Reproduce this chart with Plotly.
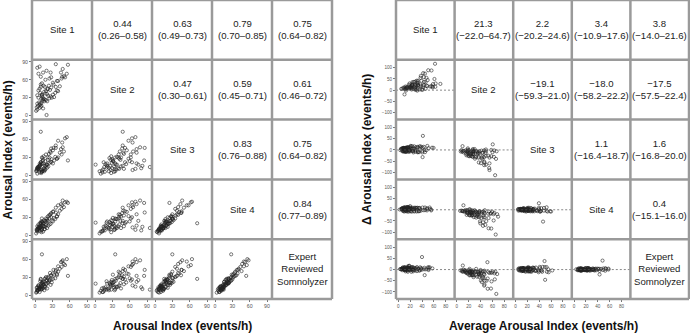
import plotly.graph_objects as go

# ---- data: arousal index (events/h) per subject for each scorer ----
site1 = [3, 11, 5, 12, 7, 14, 6, 16, 9, 4, 17, 8, 12, 19, 10, 6, 21, 13, 9, 18,
         14, 23, 11, 16, 25, 13, 17, 27, 15, 21, 10, 29, 19, 31, 22, 33, 24, 35, 26, 38,
         28, 40, 31, 43, 4, 2, 8, 4, 8, 15, 11, 12, 22, 18, 32, 46, 36, 50, 40, 45,
         52, 48, 57, 55, 38, 27, 3, 6, 12, 4, 8, 14, 20, 10, 36, 47, 25, 10, 12, 20,
         28, 6]
site2 = [14, 28, 16, 33, 22, 12, 30, 24, 38, 20, 27, 18, 35, 26, 15, 42, 24, 31, 20, 37,
         27, 33, 21, 40, 29, 25, 48, 32, 28, 36, 52, 30, 41, 35, 45, 31, 50, 38, 43, 58,
         47, 41, 55, 49, 10, 8, 13, 34, 45, 50, 17, 54, 44, 60, 52, 62, 48, 66, 58, 72,
         64, 78, 85, 70, 42, 72, 121, 95, 100, 80, 82, 72, 75, 65, 86, 65, 62, 48, 35, 1,
         64, 70]
site3 = [10, 4, 14, 6, 15, 8, 12, 7, 18, 13, 9, 19, 7, 16, 22, 11, 13, 24, 17, 10,
         26, 15, 20, 12, 21, 29, 16, 23, 32, 18, 22, 27, 35, 20, 30, 25, 36, 31, 40, 28,
         45, 30, 42, 38, 3, 7, 5, 10, 15, 11, 6, 19, 26, 24, 46, 35, 50, 40, 58, 44,
         62, 47, 25, 64, 28, 38, 8, 14, 10, 12, 16, 20, 18, 9, 46, 55, 30, 73, 30, 18,
         22, 11]
site4 = [8, 5, 11, 9, 13, 6, 14, 10, 12, 15, 10, 16, 11, 17, 14, 18, 12, 19, 21, 14,
         20, 16, 23, 15, 18, 22, 24, 19, 25, 27, 20, 24, 28, 23, 31, 29, 33, 27, 34, 32,
         37, 35, 39, 41, 6, 3, 7, 9, 12, 15, 8, 22, 24, 23, 40, 44, 46, 47, 50, 52,
         55, 58, 54, 56, 31, 35, 10, 12, 16, 8, 14, 16, 24, 13, 38, 50, 28, 20, 28, 21,
         30, 9]
site5 = [5, 9, 7, 13, 10, 11, 16, 8, 14, 9, 15, 13, 10, 18, 12, 16, 11, 20, 23, 13,
         17, 22, 19, 14, 25, 20, 27, 17, 22, 24, 26, 21, 30, 27, 29, 34, 31, 28, 37, 35,
         33, 39, 36, 44, 7, 4, 5, 8, 11, 18, 10, 21, 20, 28, 42, 47, 40, 52, 48, 55,
         50, 58, 32, 60, 33, 32, 12, 9, 15, 13, 10, 22, 25, 16, 42, 56, 24, 27, 68, 19,
         26, 14]

site_labels = ["Site 1", "Site 2", "Site 3", "Site 4", "Expert<br>Reviewed<br>Somnolyzer"]

# agreement (ICC) text, upper triangle
icc_text = {
    (0, 1): "0.44<br>(0.26–0.58)", (0, 2): "0.63<br>(0.49–0.73)",
    (0, 3): "0.79<br>(0.70–0.85)", (0, 4): "0.75<br>(0.64–0.82)",
    (1, 2): "0.47<br>(0.30–0.61)", (1, 3): "0.59<br>(0.45–0.71)",
    (1, 4): "0.61<br>(0.46–0.72)",
    (2, 3): "0.83<br>(0.76–0.88)", (2, 4): "0.75<br>(0.64–0.82)",
    (3, 4): "0.84<br>(0.77–0.89)",
}
# Bland-Altman bias (limits of agreement), upper triangle
ba_text = {
    (0, 1): "21.3<br>(−22.0–64.7)", (0, 2): "2.2<br>(−20.2–24.6)",
    (0, 3): "3.4<br>(−10.9–17.6)", (0, 4): "3.8<br>(−14.0–21.6)",
    (1, 2): "−19.1<br>(−59.3–21.0)", (1, 3): "−18.0<br>(−58.2–22.2)",
    (1, 4): "−17.5<br>(−57.5–22.4)",
    (2, 3): "1.1<br>(−16.4–18.7)", (2, 4): "1.6<br>(−16.8–20.0)",
    (3, 4): "0.4<br>(−15.1–16.0)",
}

left_ticks = [0, 30, 60, 90]
right_xticks = [0, 20, 40, 60, 80]
right_yticks = [-100, -50, 0, 50, 100]

left_xtitle = "Arousal Index (events/h)"
left_ytitle = "Arousal Index (events/h)"
right_xtitle = "Average Arousal Index (events/h)"
right_ytitle = "Δ Arousal Index (events/h)"

# ---- layout geometry (pixels) ----
W, H = 690, 333
CH = 59.8
FONT = "Liberation Sans, Arial, sans-serif"
GRID = "#9a9a9a"

panels = [
    dict(name="left", x0=32, cw=60,
         xr=[-3 / (52 / 90), (60 - 3) / (52 / 90)],
         yr=[-4 / 0.6, 90 + 2 / 0.6],
         xt=left_ticks, yt=left_ticks, text=icc_text, tfs=5.2),
    dict(name="right", x0=396, cw=58.6,
         xr=[-2.3 / 0.5925, (58.6 - 2.3) / 0.5925],
         yr=[-(CH - 30.35) / 0.2235, 30.35 / 0.2235],
         xt=right_xticks, yt=right_yticks, text=ba_text, tfs=4.6),
]

sites = [site1, site2, site3, site4, site5]

fig = go.Figure()
shapes = []
annotations = []
n = 0
cell_font = dict(family=FONT, size=9.6, color="#222")
for P in panels:
    x0, cw = P["x0"], P["cw"]
    for r in range(5):
        for c in range(5):
            xl = x0 + c * cw
            xr_ = xl + cw
            yt = r * CH
            yb = yt + CH
            cx = (xl + xr_) / 2 / W
            cy = 1 - (yt + yb) / 2 / H
            if r <= c:
                txt = site_labels[r] if r == c else P["text"][(r, c)]
                annotations.append(dict(x=cx, y=cy, xref="paper", yref="paper",
                                        text=txt, showarrow=False, font=cell_font,
                                        xanchor="center", yanchor="middle"))
            else:
                n += 1
                sfx = "" if n == 1 else str(n)
                if P["name"] == "left":
                    xs, ys = sites[c], sites[r]
                else:
                    xs = [(a + b) / 2 for a, b in zip(sites[r], sites[c])]
                    ys = [a - b for a, b in zip(sites[r], sites[c])]
                fig.add_trace(go.Scatter(
                    x=xs, y=ys, xaxis="x" + sfx, yaxis="y" + sfx, mode="markers",
                    marker=dict(symbol="circle-open", size=3.2,
                                color="#222", line=dict(width=0.6, color="#222")),
                    showlegend=False, hoverinfo="skip"))
                fig.layout["xaxis" + sfx] = dict(
                    domain=[xl / W, xr_ / W], anchor="y" + sfx, range=P["xr"],
                    tickvals=P["xt"], showticklabels=(r == 4),
                    ticks="outside" if r == 4 else "", ticklen=2, tickwidth=0.6,
                    tickcolor="#777", tickfont=dict(family=FONT, size=P["tfs"], color="#555"),
                    showgrid=False, zeroline=False, showline=False, fixedrange=True)
                fig.layout["yaxis" + sfx] = dict(
                    domain=[1 - yb / H, 1 - yt / H], anchor="x" + sfx, range=P["yr"],
                    tickvals=P["yt"], showticklabels=(c == 0),
                    ticks="outside" if c == 0 else "", ticklen=2, tickwidth=0.6,
                    tickcolor="#777", tickfont=dict(family=FONT, size=P["tfs"], color="#555"),
                    showgrid=False, zeroline=False, showline=False, fixedrange=True)
                if P["name"] == "right":
                    shapes.append(dict(type="line", xref="x" + sfx + " domain", x0=0, x1=1,
                                       yref="y" + sfx, y0=0, y1=0,
                                       line=dict(color="#555", width=0.7, dash="2px,2px")))
    # grid lines
    for k in range(6):
        xx = (x0 + k * cw) / W
        shapes.append(dict(type="line", xref="paper", yref="paper", x0=xx, x1=xx,
                           y0=1 - 5 * CH / H, y1=1, line=dict(color=GRID, width=2.5)))
        yy = 1 - (k * CH) / H
        shapes.append(dict(type="line", xref="paper", yref="paper", x0=x0 / W,
                           x1=(x0 + 5 * cw) / W, y0=yy, y1=yy, line=dict(color=GRID, width=2.5)))

# axis titles
tf = dict(family=FONT, size=12, color="#111", weight="bold")
annotations += [
    dict(x=182 / W, y=1 - 325.5 / H, xref="paper", yref="paper", text=left_xtitle,
         showarrow=False, font=tf, xanchor="center", yanchor="middle"),
    dict(x=7.5 / W, y=1 - 150 / H, xref="paper", yref="paper", text=left_ytitle,
         showarrow=False, font=tf, textangle=-90, xanchor="center", yanchor="middle"),
    dict(x=543 / W, y=1 - 325.5 / H, xref="paper", yref="paper", text=right_xtitle,
         showarrow=False, font=tf, xanchor="center", yanchor="middle"),
    dict(x=367 / W, y=1 - 150 / H, xref="paper", yref="paper", text=right_ytitle,
         showarrow=False, font=tf, textangle=-90, xanchor="center", yanchor="middle"),
]

fig.update_layout(width=W, height=H, margin=dict(l=0, r=0, t=0, b=0),
                  paper_bgcolor="white", plot_bgcolor="white",
                  shapes=shapes, annotations=annotations, showlegend=False)
fig.write_html("out.html", config={"displayModeBar": False},
               post_script="document.body.style.margin='0px';document.body.style.overflow='hidden';")
